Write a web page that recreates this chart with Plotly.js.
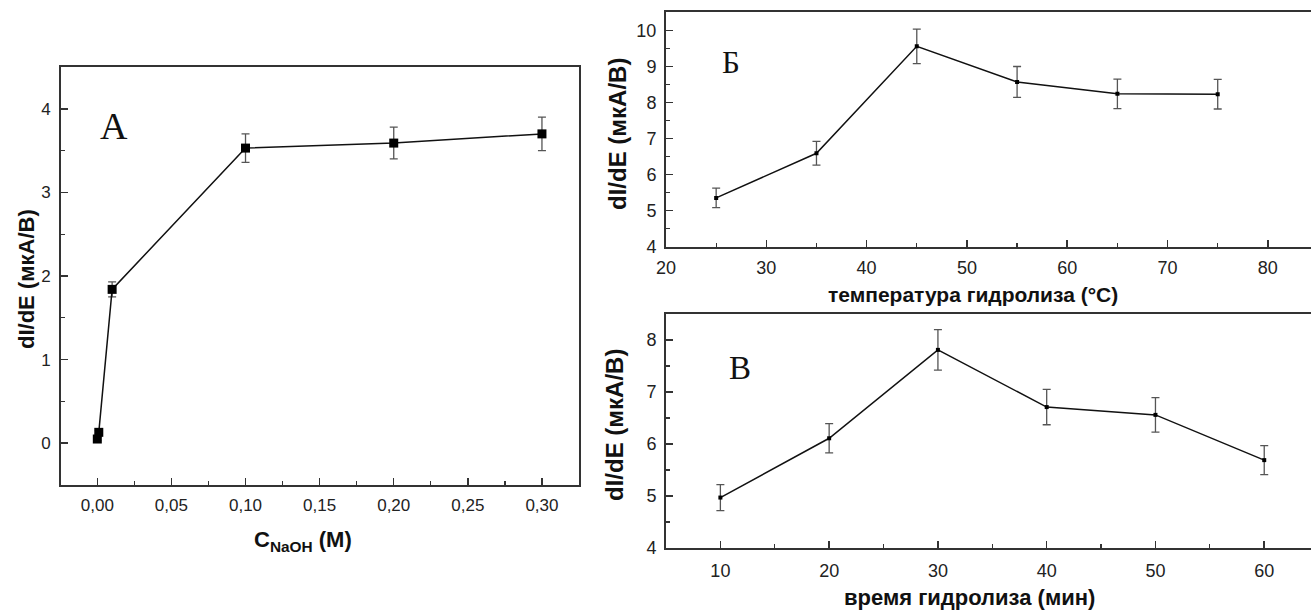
<!DOCTYPE html>
<html><head><meta charset="utf-8">
<script src="https://cdn.plot.ly/plotly-3.0.1.min.js"></script>
<style>html,body{margin:0;padding:0;background:#fff}#chart{width:1311px;height:612px}</style>
</head><body><div id="chart"></div>
<script>
// Panel А: dI/dE vs NaOH concentration
const naohConc = [0, 0.001, 0.01, 0.10, 0.20, 0.30];
const naohSignal = [0.05, 0.13, 1.84, 3.53, 3.59, 3.70];
const naohErr = [0.02, 0.02, 0.09, 0.17, 0.19, 0.20];
// Panel Б: dI/dE vs hydrolysis temperature
const tempC = [25, 35, 45, 55, 65, 75];
const tempSignal = [5.35, 6.59, 9.56, 8.57, 8.24, 8.23];
const tempErr = [0.27, 0.33, 0.48, 0.43, 0.41, 0.41];
// Panel В: dI/dE vs hydrolysis time
const timeMin = [10, 20, 30, 40, 50, 60];
const timeSignal = [4.97, 6.11, 7.81, 6.71, 6.56, 5.69];
const timeErr = [0.25, 0.28, 0.39, 0.34, 0.33, 0.28];

const SANS = 'Liberation Sans, Arial, Helvetica, sans-serif';
const SERIF = 'Liberation Serif, Times New Roman, serif';
const AX = '#333';
const ERRC = '#555';

function trace(x, y, e, xa, ya, msize) {
  return {
    x: x, y: y, xaxis: xa, yaxis: ya, type: 'scatter', mode: 'lines+markers',
    line: {color: '#111', width: 1.5},
    marker: {symbol: 'square', size: msize, color: '#000'},
    error_y: {type: 'data', array: e, visible: true, color: ERRC, thickness: 1.3, width: 4},
    showlegend: false, hoverinfo: 'x+y'
  };
}

function axis(opts) {
  return Object.assign({
    showgrid: false, zeroline: false, showline: true, linecolor: AX, linewidth: 2,
    ticks: 'inside', ticklen: 7, tickwidth: 1.5, tickcolor: AX,
    tickfont: {family: SANS, size: 17, color: '#222'},
    fixedrange: true
  }, opts);
}

function note(px, py, text, size, family, angle) {
  return {xref: 'paper', yref: 'paper', x: px / 1311, y: 1 - py / 612,
    xanchor: 'center', yanchor: 'middle', text: text, textangle: angle || 0,
    showarrow: false, font: {family: family, size: size, color: '#111'}};
}

const data = [
  trace(naohConc, naohSignal, naohErr, 'x', 'y', 9),
  trace(tempC, tempSignal, tempErr, 'x2', 'y2', 4),
  trace(timeMin, timeSignal, timeErr, 'x3', 'y3', 4)
];

const minorStyle = {ticks: 'inside', ticklen: 4, tickcolor: AX, tickwidth: 1.2};

const layout = {
  width: 1311, height: 612,
  margin: {l: 0, r: 0, t: 0, b: 0},
  paper_bgcolor: '#fff', plot_bgcolor: '#fff',
  separators: ', ',
  showlegend: false,
  xaxis: axis({domain: [0.04653, 0.44165], anchor: 'y', range: [-0.0245, 0.325],
    tick0: 0, dtick: 0.05, tickformat: '.2f', mirror: true, ticklabelstandoff: 4,
    minor: Object.assign({dtick: 0.025}, minorStyle)}),
  yaxis: axis({domain: [0.20752, 0.89052], anchor: 'x', range: [-0.5, 4.5],
    tick0: 0, dtick: 1, mirror: true, ticklabelstandoff: 5,
    minor: Object.assign({dtick: 0.5}, minorStyle)}),
  xaxis2: axis({domain: [0.50801, 1], anchor: 'y2', range: [20, 84.3],
    tick0: 20, dtick: 10, mirror: true, ticklabelstandoff: 4,
    tickfont: {family: SANS, size: 18, color: '#222'},
    minor: Object.assign({dtick: 5}, minorStyle)}),
  yaxis2: axis({domain: [0.59722, 0.97958], anchor: 'x2', range: [4, 10.5],
    tick0: 4, dtick: 1, ticklabelstandoff: 4,
    tickfont: {family: SANS, size: 18, color: '#222'},
    minor: Object.assign({dtick: 0.5}, minorStyle)}),
  xaxis3: axis({domain: [0.50801, 1], anchor: 'y3', range: [5, 64.3],
    tick0: 10, dtick: 10, mirror: true, ticklabelstandoff: 5,
    tickfont: {family: SANS, size: 18, color: '#222'},
    minor: Object.assign({dtick: 5}, minorStyle)}),
  yaxis3: axis({domain: [0.10458, 0.48693], anchor: 'x3', range: [4, 8.5],
    tick0: 4, dtick: 1, ticklabelstandoff: 4,
    tickfont: {family: SANS, size: 18, color: '#222'},
    minor: Object.assign({dtick: 0.5}, minorStyle)}),
  annotations: [
    // axis titles
    note(27, 279, '<b>dI/dE (мкА/В)</b>', 22, SANS, -90),
    note(303, 541, '<b>C<sub>NaOH</sub> (M)</b>', 22, SANS),
    note(617, 134, '<b>dI/dE (мкА/В)</b>', 24, SANS, -90),
    note(973, 294, '<b>температура гидролиза (°C)</b>', 21, SANS),
    note(614, 425, '<b>dI/dE (мкА/В)</b>', 24, SANS, -90),
    note(970, 597, '<b>время гидролиза (мин)</b>', 22, SANS),
    // panel letters
    note(114, 126, 'А', 38, SERIF),
    note(731, 63, 'Б', 31, SERIF),
    note(740, 368, 'В', 33, SERIF)
  ]
};

Plotly.newPlot('chart', data, layout, {displayModeBar: false, staticPlot: true});
</script>
</body></html>
